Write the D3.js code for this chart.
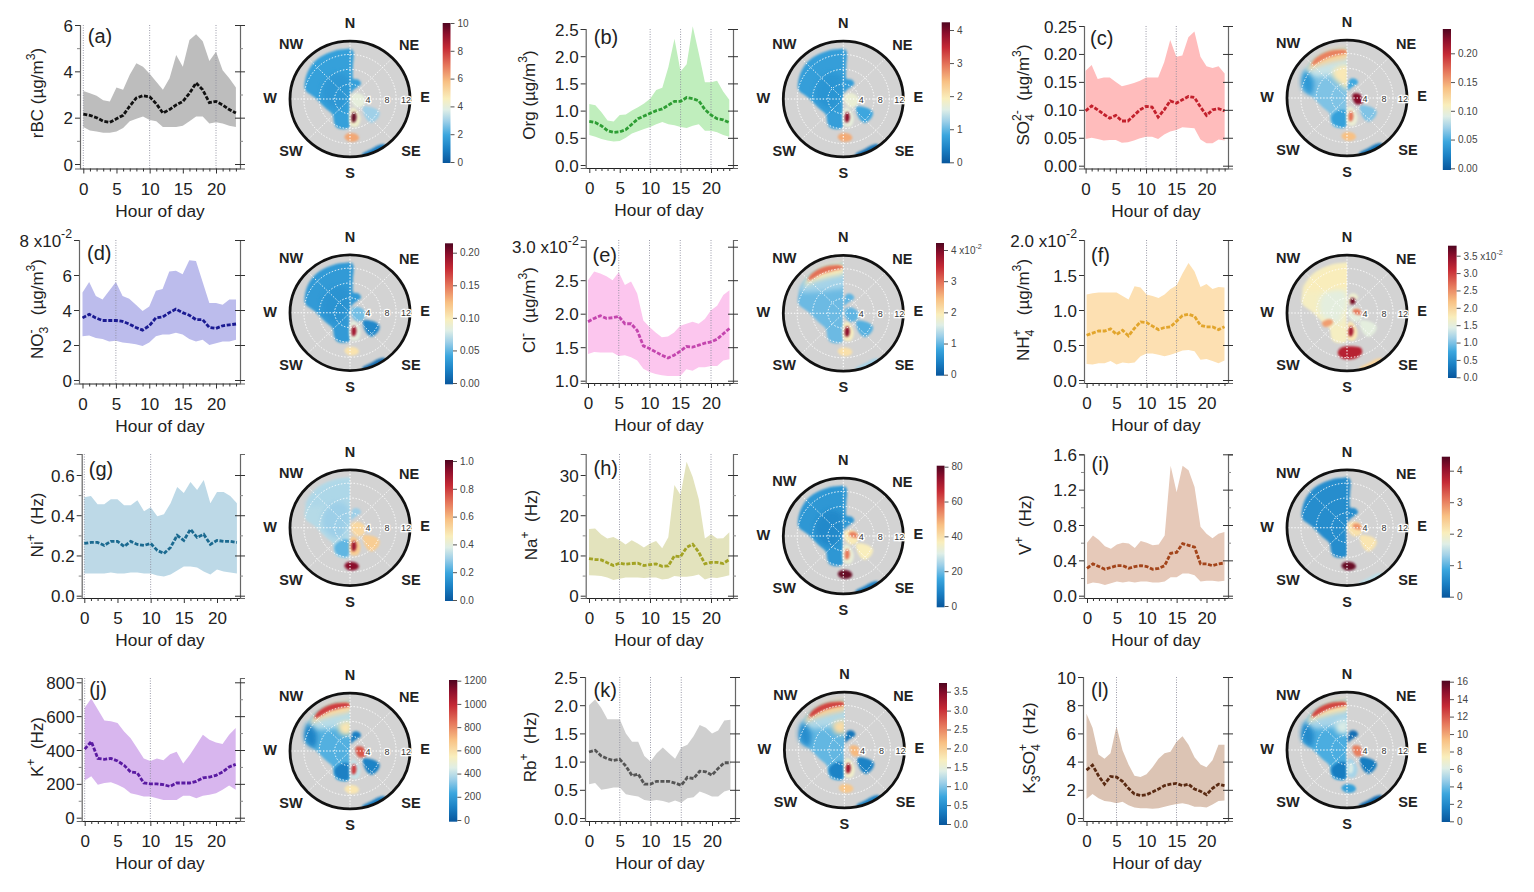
<!DOCTYPE html>
<html>
<head>
<meta charset="utf-8">
<script src="https://cdn.jsdelivr.net/npm/d3@7/dist/d3.min.js"></script>
<style>
  html, body { margin: 0; padding: 0; background: #fff; }
  svg { display: block; font-family: "Liberation Sans", Arial, sans-serif; }
</style>
</head>
<body>
<svg id="chart" width="1534" height="892"></svg>
<script>
// ---- diurnal data (hour 0..23) ----
var hours = d3.range(0, 24);

var meanA = [2.15,2.1,2.0,1.85,1.8,1.95,2.1,2.5,2.85,2.95,2.9,2.6,2.2,2.35,2.55,2.7,3.05,3.5,3.2,2.65,2.7,2.55,2.35,2.2];
var highA = [3.15,3.05,2.95,2.75,2.7,3.3,3.2,3.85,4.35,4.2,3.9,3.55,3.2,3.7,4.7,4.2,5.35,5.6,5.3,4.45,4.85,4.05,3.7,3.3];
var lowA  = [1.6,1.45,1.4,1.35,1.35,1.4,1.55,1.85,1.95,2.05,1.9,1.85,1.6,1.6,1.6,1.65,1.85,2.05,2.05,1.75,1.8,1.75,1.65,1.6];

var meanB = [.8,.78,.72,.63,.6,.61,.65,.75,.85,.9,.95,1.0,1.03,1.1,1.17,1.17,1.24,1.22,1.18,1.02,.92,.85,.83,.78];
var highB = [1.12,1.1,.97,.82,.8,.92,.93,1.0,1.06,1.13,1.22,1.38,1.42,1.8,2.32,1.72,1.85,2.55,2.05,1.52,1.52,1.55,1.35,1.2];
var lowB  = [.55,.52,.48,.45,.43,.44,.5,.58,.62,.66,.7,.75,.79,.75,.73,.7,.68,.72,.75,.63,.63,.6,.55,.52];

var meanC = [.098,.107,.1,.092,.085,.09,.08,.08,.09,.1,.106,.105,.087,.1,.116,.112,.118,.124,.122,.105,.09,.1,.102,.098];
var highC = [.17,.18,.155,.158,.158,.15,.142,.145,.148,.152,.158,.158,.158,.185,.225,.195,.197,.23,.24,.195,.178,.175,.178,.165];
var lowC  = [.048,.05,.048,.045,.046,.046,.041,.042,.045,.049,.052,.052,.048,.056,.061,.064,.069,.068,.067,.047,.04,.04,.047,.045];

var meanD = [3.55,3.75,3.55,3.4,3.4,3.4,3.35,3.2,3.0,2.85,3.1,3.55,3.6,3.85,4.05,3.85,3.7,3.45,3.45,3.0,2.95,3.1,3.15,3.2];
var highD = [5.0,5.6,4.8,4.6,5.1,5.6,4.8,4.65,4.3,3.95,4.2,5.1,5.2,6.2,6.25,6.05,6.85,6.8,5.6,4.4,4.4,4.3,4.6,4.6];
var lowD  = [2.5,2.55,2.4,2.35,2.2,2.25,2.15,2.1,2.05,1.95,2.15,2.5,2.6,2.6,2.7,2.6,2.35,2.2,2.3,2.0,2.1,2.2,2.2,2.3];

var meanE = [1.88,1.93,1.97,1.93,1.94,1.96,1.85,1.85,1.75,1.52,1.48,1.43,1.38,1.34,1.38,1.44,1.51,1.5,1.53,1.56,1.58,1.62,1.7,1.78];
var highE = [2.5,2.63,2.6,2.56,2.5,2.62,2.43,2.48,2.3,1.9,1.8,1.72,1.65,1.66,1.72,1.82,1.85,1.88,1.85,1.92,2.05,2.12,2.28,2.35];
var lowE  = [1.4,1.43,1.42,1.42,1.42,1.37,1.38,1.35,1.3,1.18,1.13,1.1,1.08,1.07,1.07,1.07,1.17,1.15,1.2,1.2,1.22,1.22,1.3,1.32];

var meanF = [.64,.67,.7,.7,.73,.65,.71,.63,.74,.83,.82,.77,.72,.75,.76,.84,.92,.94,.91,.78,.76,.76,.72,.76];
var highF = [1.22,1.24,1.25,1.25,1.25,1.25,1.2,1.15,1.34,1.32,1.22,1.2,1.17,1.22,1.3,1.35,1.52,1.67,1.55,1.33,1.37,1.3,1.33,1.32];
var lowF  = [.23,.22,.24,.24,.27,.22,.25,.24,.25,.34,.38,.38,.36,.34,.36,.39,.42,.43,.41,.29,.3,.27,.24,.28];

var meanG = [.26,.265,.265,.25,.27,.27,.245,.27,.255,.25,.26,.225,.21,.24,.30,.275,.33,.29,.305,.255,.275,.27,.27,.265];
var highG = [.49,.495,.455,.455,.48,.48,.45,.45,.475,.42,.44,.395,.405,.46,.54,.51,.565,.525,.575,.46,.515,.515,.495,.46];
var lowG  = [.11,.11,.11,.11,.115,.11,.11,.115,.115,.11,.11,.1,.095,.105,.125,.145,.145,.14,.12,.105,.13,.12,.115,.11];

var meanH = [9.2,9,8.9,8.2,7.5,8.1,7.8,8,8.1,7.5,7.7,7.9,7.3,7.4,9.9,9.7,12,12.8,10.8,7.9,8.3,8.3,8,9];
var highH = [16.6,16.7,15.2,14.2,14.6,13.8,12.7,13.8,13,12,13,13.6,11.8,14.5,27.5,25,33.3,29.5,24,14.2,15.3,14.2,14.3,15.8];
var lowH  = [5.1,5,4.9,4.5,3.9,4.2,4.5,4.5,4.5,4.4,4.5,4.5,4,4.2,4.9,4.7,4.7,4.9,5.3,4,4.5,4.4,4.7,5.1];

var meanI = [.31,.36,.33,.3,.32,.34,.34,.31,.33,.34,.33,.3,.31,.34,.48,.49,.59,.57,.55,.36,.36,.34,.36,.37];
var highI = [.6,.68,.63,.56,.53,.58,.6,.59,.54,.62,.6,.57,.58,.68,1.47,1.17,1.47,1.42,1.23,.78,.7,.65,.7,.72];
var lowI  = [.13,.15,.14,.12,.14,.16,.15,.16,.15,.16,.16,.15,.15,.16,.21,.21,.25,.25,.23,.16,.17,.17,.16,.17];

var meanJ = [405,450,350,345,350,335,310,270,265,205,200,200,195,185,205,205,205,215,235,240,250,270,300,315];
var highJ = [650,705,640,575,570,560,510,470,410,350,335,350,340,375,390,320,370,430,490,460,445,435,490,530];
var lowJ  = [220,245,195,205,210,195,175,145,135,125,125,115,105,105,105,130,130,115,130,135,145,165,190,165];

var meanK = [1.17,1.2,1.1,1.05,1.02,1.04,.92,.75,.78,.6,.6,.65,.65,.65,.62,.58,.72,.7,.83,.82,.76,.88,.98,.98];
var highK = [2.0,2.1,1.95,1.75,1.75,1.75,1.5,1.35,1.35,1.1,1.0,1.15,1.25,1.15,1.05,1.25,1.3,1.45,1.65,1.6,1.5,1.55,1.73,1.74];
var lowK  = [.6,.62,.5,.52,.54,.54,.42,.4,.38,.32,.3,.32,.3,.27,.31,.27,.35,.37,.47,.43,.38,.38,.47,.5];

var meanL = [3.4,3.75,3,2.4,2.95,2.9,2.6,2.1,1.7,1.6,1.65,1.85,2.05,2.3,2.4,2.45,2.3,2.4,2.05,1.9,1.65,2.1,2.4,2.3];
var highL = [7.4,6.4,4.5,4.2,4.6,6.5,4.8,3.8,3,2.9,3.1,3.6,4.2,4.6,4.7,5.4,5.8,5.2,4.3,3.8,3.6,4.1,5.2,5.2];
var lowL  = [1.35,1.7,1.4,1.2,1.15,1.05,1.15,.9,.75,.7,.7,.65,.7,.8,.9,1,1.05,.95,.8,.8,.75,.95,1.2,1.25];

// ---- polar plot regions: [bearing in degrees, wind speed] ----
var lobeWest = [[180,5.3],[181,7.6],[192,8.3],[204,8.4],[213,7.6],[227,6.2],[250,6.9],[272,9.1],[282,11.9],[293,12.7],[308,13.4],[324,13.7],[342,13.6],[355,13.5],[362,13.4],[366,5],[360,0.1],[270,0.1]];
var stripN = [[1,13.5],[4,12.8],[5,9],[7,6],[9,5.5],[23,5.6],[35,5],[20,2.6],[6,1.5],[0,2],[358,8]];
var bumpNE = [[3,3.2],[9,5.2],[23,5.6],[35,5],[20,2.8],[8,2]];
var lobeCore = [[215,3],[240,5],[270,7],[300,8],[330,8],[355,6],[350,1],[280,1]];
var nwBand = [[298,13],[320,13.2],[345,12.8],[362,12.6],[362,7],[335,7],[310,9]];
var nwHalo = [[306,12.6],[316,13.3],[340,13.6],[362,13.2],[362,11],[340,10.4],[318,11.5]];
var nwArc = [[314,12.7],[320,13.4],[337,13.5],[356,13],[361,12.4],[358,12],[347,11.8],[332,12]];
var nSector = [[332,5.5],[338,7.7],[350,8],[362,8],[362,4.5],[345,4.5]];
var nSectorBig = [[328,7],[338,8.6],[362,8.8],[362,2],[345,3]];
var westBand = [[275,9.5],[283,11.8],[292,12.8],[305,13.2],[300,10.2],[285,9]];
var swLobe = [[208,3.6],[219,6.4],[206,7.9],[186,8],[181,6.6],[181,3.6]];
var eastNear = [[20,1.2],[54,2.7],[86,3.9],[115,4],[143,2.9],[153,1],[90,0.3]];
var seLobe = [[122,4],[111,6.5],[115,8.5],[125,8.9],[139,8.5],[142,7.1],[136,5]];
var southHalo = [[150,3],[152,5.8],[165,7.6],[178,7.2],[180,3.2],[165,2.4]];
var southHot = [[163,3.6],[160,4.9],[168,6.3],[174,6.3],[175,4.5]];
var southSpot = [[188,10.4],[185,9.4],[177,9.2],[169,9.8],[167.5,10.8],[173.5,11.5],[182,11.4]];
var southBig = [[192.6,11.1],[189.5,9.5],[170.6,9.1],[159,10.2],[160,11.5],[169,12.4],[185,12.4]];
var seEdge = [[168,15.2],[158,14.6],[150,14.5],[144,15],[144,15.8],[155,15.8],[168,15.8]];
var neHot = [[55,1.9],[75,3.6],[110,4.2],[125,2.9],[105,1.6]];
var neSpot = [[15,3],[28,2.6],[38,3.5],[25,4.4],[15,4.2]];
var eastBand = [[60,1.8],[72,3.3],[95,3.9],[100,2.8],[85,1.6]];
var swBlob = [[232,5],[238,7],[248,7],[250,5],[240,4.2]];

var shapes = {
  lobeWest: lobeWest, stripN: stripN, bumpNE: bumpNE, lobeCore: lobeCore, nwBand: nwBand, nwHalo: nwHalo,
  nwArc: nwArc, nSector: nSector, nSectorBig: nSectorBig, westBand: westBand, swLobe: swLobe, eastNear: eastNear,
  seLobe: seLobe, southHalo: southHalo, southHot: southHot, southSpot: southSpot, southBig: southBig,
  seEdge: seEdge, neHot: neHot, neSpot: neSpot, eastBand: eastBand, swBlob: swBlob
};
// these stop dead on the north line
var westOnly = ["lobeWest", "lobeCore", "nwBand", "nwHalo", "nwArc", "nSector", "nSectorBig", "swLobe"];

// concentration of each region, in colour bar units
var polarA = [["lobeWest",1.85],["stripN",1.85],["lobeCore",1.6],["southHalo",4.3],["eastNear",4],["seLobe",3],["southHot",9.7],["southSpot",6.2],["seEdge",1]];
var polarB = [["lobeWest",.76],["stripN",.76],["lobeCore",.66],["southHalo",1.7],["eastNear",1.75],["seLobe",.85],["southHot",3.9],["southSpot",2.6],["seEdge",.3]];
var polarC = [["lobeWest",.065],["bumpNE",.05],["nwBand",.085],["nSectorBig",.115],["westBand",.04],["nwHalo",.13],["nwArc",.165],["swLobe",.045],["seLobe",.065],["southHalo",.1],["southHot",.17],["neHot",.225],["southSpot",.14],["seEdge",.02]];
var polarD = [["lobeWest",.036],["stripN",.036],["lobeCore",.032],["eastNear",.055],["seLobe",.026],["southHalo",.085],["southHot",.19],["southSpot",.105],["seEdge",.012]];
var polarE = [["lobeWest",1.05],["bumpNE",1],["nwBand",1.3],["nwHalo",2],["nwArc",3],["eastNear",1],["seLobe",.95],["southHalo",1.9],["southHot",3.9],["southSpot",2.1],["seEdge",1.3]];
var polarF = [["lobeWest",1.7],["lobeCore",1.5],["nwBand",1.75],["bumpNE",1.6],["eastNear",1.5],["seLobe",1.5],["southHalo",1.8],["southHot",3.3],["swBlob",2.4],["neSpot",3.6],["eastBand",2.6],["southBig",3.2],["seEdge",2.0]];
var polarG = [["lobeWest",.33],["nwBand",.32],["lobeCore",.3],["bumpNE",.3],["swLobe",.24],["eastNear",.52],["seLobe",.55],["southHalo",.55],["southHot",.9],["southSpot",.93]];
var polarH = [["lobeWest",13],["stripN",13],["lobeCore",10],["eastNear",38],["eastBand",55],["seLobe",37],["southHalo",33],["southHot",56],["southSpot",78],["seEdge",8]];
var polarI = [["lobeWest",.6],["stripN",.6],["eastNear",2.2],["eastBand",2.9],["seLobe",2.15],["southSpot",4.3],["seEdge",1.5]];
var polarJ = [["lobeWest",270],["bumpNE",120],["nwBand",400],["nSector",580],["westBand",130],["nwHalo",620],["nwArc",950],["swLobe",120],["seLobe",130],["southHalo",420],["southHot",950],["neHot",900],["southSpot",580],["seEdge",120]];
var polarK = [["lobeWest",.9],["bumpNE",.3],["nwBand",1.2],["nSector",1.9],["westBand",.5],["nwHalo",2],["nwArc",2.9],["swLobe",.4],["seLobe",.4],["southHalo",1.6],["southHot",3.3],["neHot",2.2],["southSpot",2.1],["seEdge",.4]];
var polarL = [["lobeWest",3.5],["bumpNE",1],["nwBand",5],["westBand",2],["nSector",6],["nwHalo",8],["nwArc",12.5],["swLobe",1.5],["seLobe",1.5],["southHalo",5],["southHot",6],["neHot",11],["southSpot",3],["seEdge",.8]];

// ---- labels and ticks ----
var panelLabels = ["(a)","(b)","(c)","(d)","(e)","(f)","(g)","(h)","(i)","(j)","(k)","(l)"];
var yTitles = ["rBC (µg/m^{3})","Org (µg/m^{3})","SO_{4}^{2-}\u00a0 (µg/m^{3})","NO_{3}^{-}\u00a0\u00a0 (µg/m^{3})","Cl^{-}\u00a0 (µg/m^{3})","NH_{4}^{+}\u00a0\u00a0 (µg/m^{3})","Ni^{+}\u00a0 (Hz)","Na^{+}\u00a0 (Hz)","V^{+}\u00a0 (Hz)","K^{+}\u00a0 (Hz)","Rb^{+}\u00a0 (Hz)","K_{3}SO_{4}^{+}\u00a0 (Hz)"];
var yTickValues = [[0,2,4,6],[0,.5,1,1.5,2,2.5],[0,.05,.1,.15,.2,.25],[0,2,4,6,8],[1,1.5,2,2.5,3],[0,.5,1,1.5,2],[0,.2,.4,.6],[0,10,20,30],[0,.4,.8,1.2,1.6],[0,200,400,600,800],[0,.5,1,1.5,2,2.5],[0,2,4,6,8,10]];
var yTickLabels = [["0","2","4","6"],["0.0","0.5","1.0","1.5","2.0","2.5"],["0.00","0.05","0.10","0.15","0.20","0.25"],["0","2","4","6","8 x10^{-2}"],["1.0","1.5","2.0","2.5","3.0 x10^{-2}"],["0.0","0.5","1.0","1.5","2.0 x10^{-2}"],["0.0","0.2","0.4","0.6"],["0","10","20","30"],["0.0","0.4","0.8","1.2","1.6"],["0","200","400","600","800"],["0.0","0.5","1.0","1.5","2.0","2.5"],["0","2","4","6","8","10"]];
var yMinorTicks = [[1,3,5],[],[],[],[],[],[.1,.3,.5],[5,15,25],[.2,.6,1,1.4],[100,300,500,700],[],[]];
var dottedHours = [[0,10,20],[10,15,20],[10,15],[5],[5,10,15,20],[10,15],[0,10],[5,10,15,20],[],[0,10],[5,10,15],[5,15]];
var barTickValues = [[0,2,4,6,8,10],[0,1,2,3,4],[0,.05,.1,.15,.2],[0,.05,.1,.15,.2],[0,1,2,3,4],[0,.5,1,1.5,2,2.5,3,3.5],[0,.2,.4,.6,.8,1],[0,20,40,60,80],[0,1,2,3,4],[0,200,400,600,800,1000,1200],[0,.5,1,1.5,2,2.5,3,3.5],[0,2,4,6,8,10,12,14,16]];
var barDigits = [0,0,2,2,0,1,1,0,0,0,1,0];
var barExponentOnTop = [false,false,false,false,true,true,false,false,false,false,false,false];

var areaColors = ["#bdbdbd","#c0eebd","#ffbcbc","#bcbcec","#fcc6ee","#fde0b2","#bdd9e7","#e3e3bd","#e6c9b9","#d8b6ee","#cfcfcf","#dcc4b4"];
var lineColors = ["#111111","#2e9e34","#c3202c","#1a1a92","#c445ae","#e2a52c","#1b6a90","#a3a324","#a3441a","#5a1aa2","#555555","#5a2a12"];

var meanSeries = [meanA,meanB,meanC,meanD,meanE,meanF,meanG,meanH,meanI,meanJ,meanK,meanL];
var highSeries = [highA,highB,highC,highD,highE,highF,highG,highH,highI,highJ,highK,highL];
var lowSeries = [lowA,lowB,lowC,lowD,lowE,lowF,lowG,lowH,lowI,lowJ,lowK,lowL];
var polarLayers = [polarA,polarB,polarC,polarD,polarE,polarF,polarG,polarH,polarI,polarJ,polarK,polarL];

// ---- layout, px ----
// x0, x20, left, right, top, bottom, yLoVal, yLoPx, yHiVal, yHiPx, titleX, labelY, ylabelX, ylabelY
var plotBoxes = [
  [83.3,216,80,240,25,168.5, 0,164,6,25, 160,43, 43,93],
  [589.3,711,585.7,733,29,168, 0,165,2.5,29, 659,44, 535,95],
  [1085.6,1206.5,1084,1228,26,168.5, 0,165.7,.25,26, 1156,45, 1029,95],
  [82.5,216,79,240,240,383.5, 0,380,8,240, 160,260, 43,309],
  [588,711,585.7,733,240,383, 1,380.7,3,246.7, 659,261.5, 535,310],
  [1086.6,1206.5,1084,1228,240,383, 0,380,2,240, 1156,261.5, 1029,310],
  [84.3,217,81.7,240,454,598, 0,595.7,.6,475, 160,475.5, 43,525],
  [589,711,585.7,733,454,598, 0,595.7,30,475, 659,475, 537,525],
  [1087,1206.5,1084,1228,454.3,598, 0,595.7,1.6,454.3, 1156,471, 1031,525],
  [84.7,216,81.7,240,678,821, 0,817.7,800,682.3, 160,696, 43,747],
  [589,712,585,735,677,821, 0,818,2.5,677, 660,697, 536,747],
  [1086.5,1206.5,1083,1228,677,821, 0,818,10,677, 1157,697, 1035,748]
];
// cx, cy, barX0, barX1, barTop, barBottom, tickZeroPx, tickTopVal, tickTopPx
var polarBoxes = [
  [350,99,442.7,450.5,23,163,162,10,23],
  [843.3,99,941.7,950,22.3,163.3,162.3,4,30],
  [1347,98,1442.8,1451,29,170,168.3,.2,53.3],
  [350,312.7,445,453,243.3,384.3,383,.2,252.7],
  [843.3,313.3,936,944,243,375.7,374.7,4,250],
  [1347,313,1448,1456.6,245.7,378,377.3,3.5,255.7],
  [350,527.7,445,453,460,601,600,1,461],
  [843.3,536,936.7,944.5,465.7,607.3,606,80,466.7],
  [1347,527.7,1441.8,1450,456.7,597.7,596.7,4,470.7],
  [350,751,449,457.3,680,821.7,820,1200,680.7],
  [844.4,750,939,947,683,825,824,3.5,691.7],
  [1347,750,1441.7,1450,680.7,822,821.3,16,681.7]
];
var compass = [["N",0,-76],["S",0,74],["W",-80,-1],["E",75,-2],["NW",-59,-55],["NE",59,-54],["SW",-59,52],["SE",61,52]];
var speedTicks = [4,8,12];
var speedLabelX = [18,37,56];
var spokes = [0,45,90,135,180,225,270,315];

// colour bar ramp
var rampStops = [0,.1,.2,.3,.38,.46,.58,.7,.82,.92,1];
var rampColors = ["#08569c","#1a80c4","#3ba6de","#9fd0e8","#dfeee6","#f9eebc","#f8c083","#e5755a","#c52a35","#8e0f2c","#4f0520"];
var ramp = d3.scaleLinear().domain(rampStops).range(rampColors);

var svg = d3.select("#chart");
var defs = svg.append("defs");

function addBlur(id, dev) {
  defs.append("filter").attr("id", id).attr("x", "-30%").attr("y", "-30%").attr("width", "160%").attr("height", "160%")
    .append("feGaussianBlur").attr("stdDeviation", dev);
}
addBlur("soft", 0.9);
addBlur("softer", 2.6);
defs.append("clipPath").attr("id", "westClip").append("rect").attr("x", -90).attr("y", -90).attr("width", 90).attr("height", 180);
defs.append("clipPath").attr("id", "discClip").append("circle").attr("r", 60);

// write "abc^{3}_{4}" as tspans
function richText(sel, str, size) {
  sel.text(null);
  var parts = str.split(/([\^_]\{[^}]*\})/).filter(function(p) { return p !== ""; });
  var shift = 0, prevSub = false;
  parts.forEach(function(p) {
    var kind = p[0] === "^" && p[1] === "{" ? "sup" : p[0] === "_" && p[1] === "{" ? "sub" : "plain";
    var txt = kind === "plain" ? p : p.slice(2, -1);
    var target = kind === "sup" ? -size * 0.5 : kind === "sub" ? size * 0.3 : 0;
    var t = sel.append("tspan").text(txt).attr("dy", target - shift);
    if (kind !== "plain") t.attr("font-size", size * 0.72);
    if (kind === "sup" && prevSub) t.attr("dx", -size * 0.4);
    shift = target;
    prevSub = kind === "sub";
  });
}

function styleAxis(g, color) {
  g.selectAll(".domain").attr("stroke", color).attr("stroke-width", 1.2);
  g.selectAll(".tick line").attr("stroke", "#333").attr("stroke-width", 1);
}

function drawDiurnal(i) {
  var b = plotBoxes[i];
  var left = b[2], right = b[3], top = b[4], bottom = b[5];
  var g = svg.append("g").attr("class", "diurnal");

  var x = d3.scaleLinear().domain([0, 20]).range([b[0], b[1]]);
  x.domain([x.invert(left), x.invert(right)]).range([left, right]);
  var y = d3.scaleLinear().domain([b[6], b[8]]).range([b[7], b[9]]);
  y.domain([y.invert(bottom), y.invert(top)]).range([bottom, top]);

  var mean = meanSeries[i], high = highSeries[i], low = lowSeries[i];

  g.append("path")
    .datum(hours)
    .attr("fill", areaColors[i])
    .attr("d", d3.area().x(function(h) { return x(h); }).y0(function(h) { return y(low[h]); }).y1(function(h) { return y(high[h]); }));

  g.selectAll("line.vdot").data(dottedHours[i]).enter().append("line")
    .attr("class", "vdot")
    .attr("x1", function(h) { return x(h); }).attr("x2", function(h) { return x(h); })
    .attr("y1", top).attr("y2", bottom)
    .attr("stroke", "#8e8e9e").attr("stroke-width", 0.9).attr("stroke-dasharray", "1 1.5");

  g.append("path")
    .datum(hours)
    .attr("fill", "none")
    .attr("stroke", lineColors[i]).attr("stroke-width", 2.8).attr("stroke-dasharray", "4 1.6")
    .attr("d", d3.line().x(function(h) { return x(h); }).y(function(h) { return y(mean[h]); }));

  // x axis, one tick per hour
  var xAxis = g.append("g").attr("transform", "translate(0," + bottom + ")")
    .call(d3.axisBottom(x).tickValues(hours).tickSizeOuter(0).tickFormat(function(h) { return h % 5 === 0 ? h : ""; }));
  styleAxis(xAxis, "#222");
  xAxis.selectAll(".tick line").attr("y2", function(h) { return h % 5 === 0 ? 5 : 3; });
  xAxis.selectAll(".tick text").attr("y", 14).attr("dy", "0.72em").attr("font-size", 17).attr("font-family", "Liberation Sans").attr("fill", "#222");

  // y axes
  var ticks = yTickValues[i], labels = yTickLabels[i];
  var yLeft = g.append("g").attr("transform", "translate(" + left + ",0)")
    .call(d3.axisLeft(y).tickValues(ticks).tickSizeOuter(0).tickSize(5).tickPadding(5).tickFormat(""));
  styleAxis(yLeft, "#666");
  yLeft.selectAll(".tick text").each(function(d, k) {
    d3.select(this).attr("font-size", 17).attr("font-family", "Liberation Sans").attr("fill", "#222").attr("x", -7).attr("dy", null).attr("y", 6);
    richText(d3.select(this), labels[k], 17);
  });
  var yRight = g.append("g").attr("transform", "translate(" + right + ",0)")
    .call(d3.axisRight(y).tickValues(ticks).tickSizeOuter(0).tickSize(5).tickFormat(""));
  styleAxis(yRight, "#666");
  yRight.selectAll(".tick line").attr("x1", -5);

  [[left, d3.axisLeft], [right, d3.axisRight]].forEach(function(a) {
    var m = g.append("g").attr("transform", "translate(" + a[0] + ",0)")
      .call(a[1](y).tickValues(yMinorTicks[i]).tickSizeOuter(0).tickSize(3).tickFormat(""));
    m.select(".domain").remove();
    m.selectAll(".tick line").attr("stroke", "#888");
  });

  g.append("text").attr("x", b[10]).attr("y", bottom + 48).attr("text-anchor", "middle")
    .attr("font-size", 17.3).attr("fill", "#222").text("Hour of day");

  g.append("text").attr("x", x(0) + 4.5).attr("y", b[11])
    .attr("font-size", 20).attr("fill", "#222").text(panelLabels[i]);

  var yt = g.append("text").attr("transform", "translate(" + b[12] + "," + b[13] + ") rotate(-90)")
    .attr("text-anchor", "middle").attr("font-size", 17).attr("fill", "#222");
  richText(yt, yTitles[i], 17);
}

function drawPolar(i) {
  var p = polarBoxes[i];
  var g = svg.append("g").attr("class", "polar");
  var disc = g.append("g").attr("transform", "translate(" + p[0] + "," + p[1] + ") scale(1,0.965)");

  var r = d3.scaleLinear().domain([0, 15.6]).range([0, 60]);
  var bar = d3.scaleLinear().domain([0, p[7]]).range([p[6], p[8]]);
  var barMax = bar.invert(p[4]);
  var colorOf = function(v) { return ramp(v / barMax); };
  var blob = d3.lineRadial()
    .angle(function(d) { return d[0] * Math.PI / 180; })
    .radius(function(d) { return r(d[1]); })
    .curve(d3.curveCatmullRomClosed.alpha(0.5));

  disc.append("circle").attr("r", 60).attr("fill", "#d3d3d3");

  var layers = disc.append("g").attr("clip-path", "url(#discClip)");
  polarLayers[i].forEach(function(layer) {
    var name = layer[0];
    var wide = name === "lobeCore" || name === "nwBand" || name === "nSector" || name === "nSectorBig" || name === "westBand" || name === "nwHalo";
    var holder = westOnly.indexOf(name) >= 0 ? layers.append("g").attr("clip-path", "url(#westClip)") : layers;
    holder.append("path")
      .attr("d", blob(shapes[name]))
      .attr("fill", colorOf(layer[1]))
      .attr("filter", wide ? "url(#softer)" : "url(#soft)");
  });

  // speed rings and spokes
  disc.selectAll("circle.ring").data(speedTicks).enter().append("circle")
    .attr("class", "ring").attr("r", function(d) { return r(d); })
    .attr("fill", "none").attr("stroke", "#fff").attr("stroke-width", 1).attr("stroke-dasharray", "1.4 1.8");
  disc.selectAll("line.spoke").data(spokes).enter().append("line")
    .attr("class", "spoke")
    .attr("x2", function(d) { return r(15.6) * Math.sin(d * Math.PI / 180); })
    .attr("y2", function(d) { return -r(15.6) * Math.cos(d * Math.PI / 180); })
    .attr("stroke", "#fff").attr("stroke-width", function(d) { return d % 90 === 0 ? 1.1 : 0.9; }).attr("stroke-dasharray", "1.4 1.8");
  disc.append("circle").attr("r", 60).attr("fill", "none").attr("stroke", "#111").attr("stroke-width", 2.8);

  g.selectAll("text.speed").data(speedTicks).enter().append("text")
    .attr("class", "speed")
    .attr("x", function(d, k) { return p[0] + speedLabelX[k]; })
    .attr("y", p[1] + 3.5)
    .attr("text-anchor", "middle").attr("font-size", 9).attr("fill", "#333")
    .attr("stroke", "#fff").attr("stroke-width", 2.5).attr("paint-order", "stroke")
    .text(function(d) { return d; });

  g.selectAll("text.dir").data(compass).enter().append("text")
    .attr("class", "dir")
    .attr("x", function(d) { return p[0] + d[1]; })
    .attr("y", function(d) { return p[1] + d[2] + 5; })
    .attr("text-anchor", "middle").attr("font-size", 14.5).attr("font-weight", "bold").attr("fill", "#222")
    .text(function(d) { return d[0]; });

  // colour bar
  var gradId = "grad" + i;
  var grad = defs.append("linearGradient").attr("id", gradId).attr("x1", 0).attr("x2", 0).attr("y1", 1).attr("y2", 0);
  rampStops.forEach(function(s, k) {
    grad.append("stop").attr("offset", s).attr("stop-color", rampColors[k]);
  });
  g.append("rect").attr("x", p[2]).attr("y", p[4]).attr("width", p[3] - p[2]).attr("height", p[5] - p[4]).attr("fill", "url(#" + gradId + ")");

  var digits = barDigits[i], tv = barTickValues[i];
  var axis = g.append("g").attr("transform", "translate(" + p[3] + ",0)")
    .call(d3.axisRight(bar).tickValues(tv).tickSize(4).tickPadding(3).tickSizeOuter(0)
      .tickFormat(function(d) { return d3.format("." + digits + "f")(d); }));
  axis.select(".domain").remove();
  axis.selectAll(".tick line").attr("stroke", "#555");
  axis.selectAll(".tick text").attr("font-size", 10).attr("font-family", "Liberation Sans").attr("fill", "#444");
  if (barExponentOnTop[i]) {
    axis.selectAll(".tick text").filter(function(d) { return d === tv[tv.length - 1]; }).each(function(d) {
      var t = d3.select(this), base = t.text();
      t.attr("dy", null).attr("y", 3.5);
      richText(t, base + " x10^{-2}", 10);
    });
  }
}

panelLabels.forEach(function(d, i) {
  drawDiurnal(i);
  drawPolar(i);
});
</script>
</body>
</html>
